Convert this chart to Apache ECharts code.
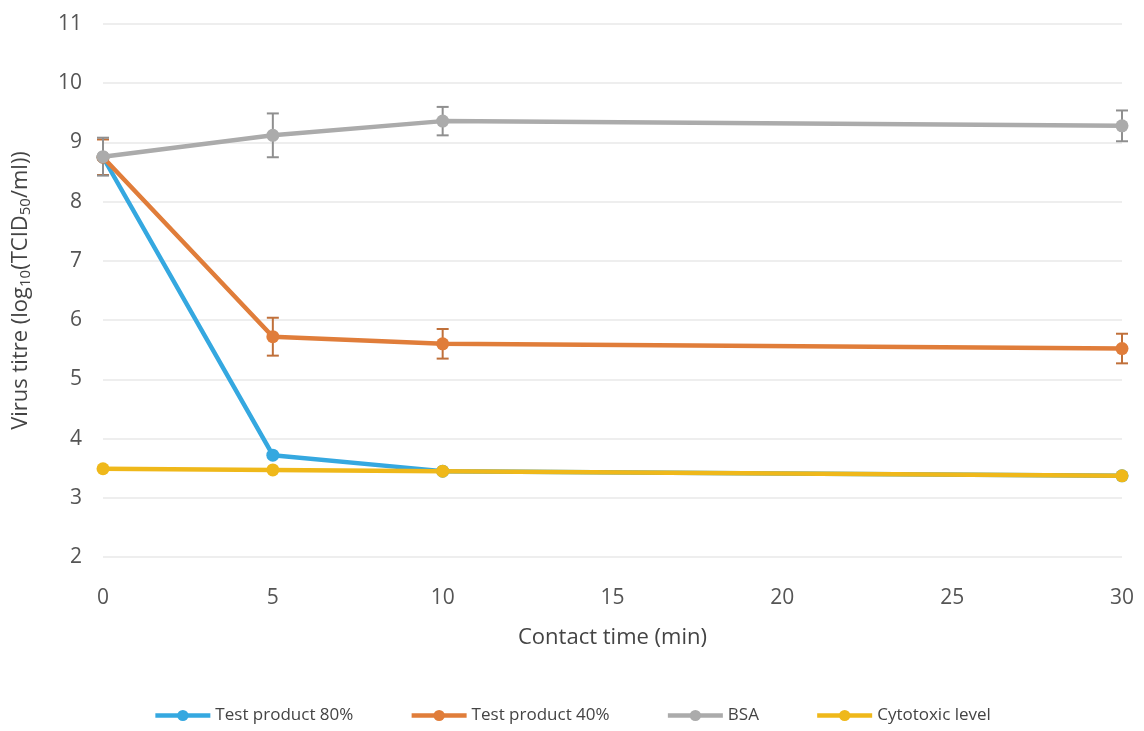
<!DOCTYPE html>
<html>
<head>
<meta charset="utf-8">
<script src="https://cdn.jsdelivr.net/npm/echarts@6/dist/echarts.min.js"></script>
<style>
  html, body { margin: 0; padding: 0; background: #fff; }
  #chart { width: 1144px; height: 731px; }
</style>
</head>
<body>
<div id="chart"></div>
<script>
// contact time (min)
const times = [0, 5, 10, 30];

// virus titre, log10(TCID50/ml)
const test80 = [8.75, 3.72, 3.45, 3.37];
const test40 = [8.75, 5.72, 5.6, 5.52];
const bsa = [8.76, 9.12, 9.36, 9.28];
const cytotoxic = [3.49, 3.47, 3.45, 3.37];

// error bars (+/-)
const test40Err = [0.3, 0.32, 0.25, 0.25];
const bsaErr = [0.32, 0.37, 0.24, 0.26];

const yTicks = [2, 3, 4, 5, 6, 7, 8, 9, 10, 11];

const colors = {
  blue: '#35a8e0',
  orange: '#e07d3a',
  gray: '#ababab',
  yellow: '#efb81a'
};

function pairs(vals) {
  return times.map((t, i) => [t, vals[i]]);
}

function errData(vals, errs) {
  return times.map((t, i) => [t, vals[i] - errs[i], vals[i] + errs[i]]);
}

function errSeries(vals, errs, color) {
  return {
    type: 'custom',
    silent: true,
    z: 1,
    data: errData(vals, errs),
    renderItem: function(params, api) {
      let lo = api.coord([api.value(0), api.value(1)]);
      let hi = api.coord([api.value(0), api.value(2)]);
      let w = 6;
      let style = { stroke: color, lineWidth: 2 };
      return {
        type: 'group',
        children: [
          { type: 'line', shape: { x1: lo[0], y1: lo[1], x2: hi[0], y2: hi[1] }, style: style },
          { type: 'line', shape: { x1: lo[0] - w, y1: lo[1], x2: lo[0] + w, y2: lo[1] }, style: style },
          { type: 'line', shape: { x1: hi[0] - w, y1: hi[1], x2: hi[0] + w, y2: hi[1] }, style: style }
        ]
      };
    }
  };
}

function lineSeries(name, vals, color, z) {
  return {
    name: name,
    type: 'line',
    data: pairs(vals),
    symbol: 'circle',
    symbolSize: 13,
    z: z,
    lineStyle: { color: color, width: 4.5 },
    itemStyle: { color: color }
  };
}

const chart = echarts.init(document.getElementById('chart'));

chart.setOption({
  animation: false,
  textStyle: { fontFamily: 'Open Sans' },
  grid: { left: 103, right: 22, top: 24, bottom: 174, outerBoundsMode: 'none', containLabel: false },
  legend: {
    bottom: 2,
    left: 'center',
    itemWidth: 55,
    itemHeight: 14,
    itemGap: 56,
    lineStyle: { width: 4.5 },
    textStyle: { fontSize: 17, color: '#444', fontFamily: 'Open Sans' },
    data: ['Test product 80%', 'Test product 40%', 'BSA', 'Cytotoxic level']
  },
  xAxis: {
    type: 'value',
    min: 0,
    max: 30,
    interval: 5,
    name: 'Contact time (min)',
    nameLocation: 'middle',
    nameGap: 70,
    nameTextStyle: { fontSize: 22, color: '#444' },
    axisLine: { show: false },
    axisTick: { show: false },
    splitLine: { show: false },
    axisLabel: { fontSize: 21, color: '#555', margin: 31 }
  },
  yAxis: {
    type: 'value',
    min: yTicks[0],
    max: yTicks[yTicks.length - 1],
    interval: 1,
    name: 'Virus titre (log{sub|10}(TCID{sub|50}/ml))',
    nameLocation: 'middle',
    nameGap: 70,
    nameTextStyle: {
      fontSize: 22,
      color: '#444',
      rich: {
        sub: { fontSize: 15, color: '#444', verticalAlign: 'bottom', padding: [10, 0, 0, 0] }
      }
    },
    axisLine: { show: false },
    axisTick: { show: false },
    splitLine: { lineStyle: { color: '#e8e8e8', width: 1.5 } },
    axisLabel: { fontSize: 21, color: '#555', margin: 21 }
  },
  series: [
    errSeries(test40, test40Err, '#c0703a'),
    errSeries(bsa, bsaErr, '#8f8f8f'),
    lineSeries('Test product 80%', test80, colors.blue, 2),
    lineSeries('Test product 40%', test40, colors.orange, 3),
    lineSeries('BSA', bsa, colors.gray, 4),
    lineSeries('Cytotoxic level', cytotoxic, colors.yellow, 5)
  ]
});
</script>
</body>
</html>
